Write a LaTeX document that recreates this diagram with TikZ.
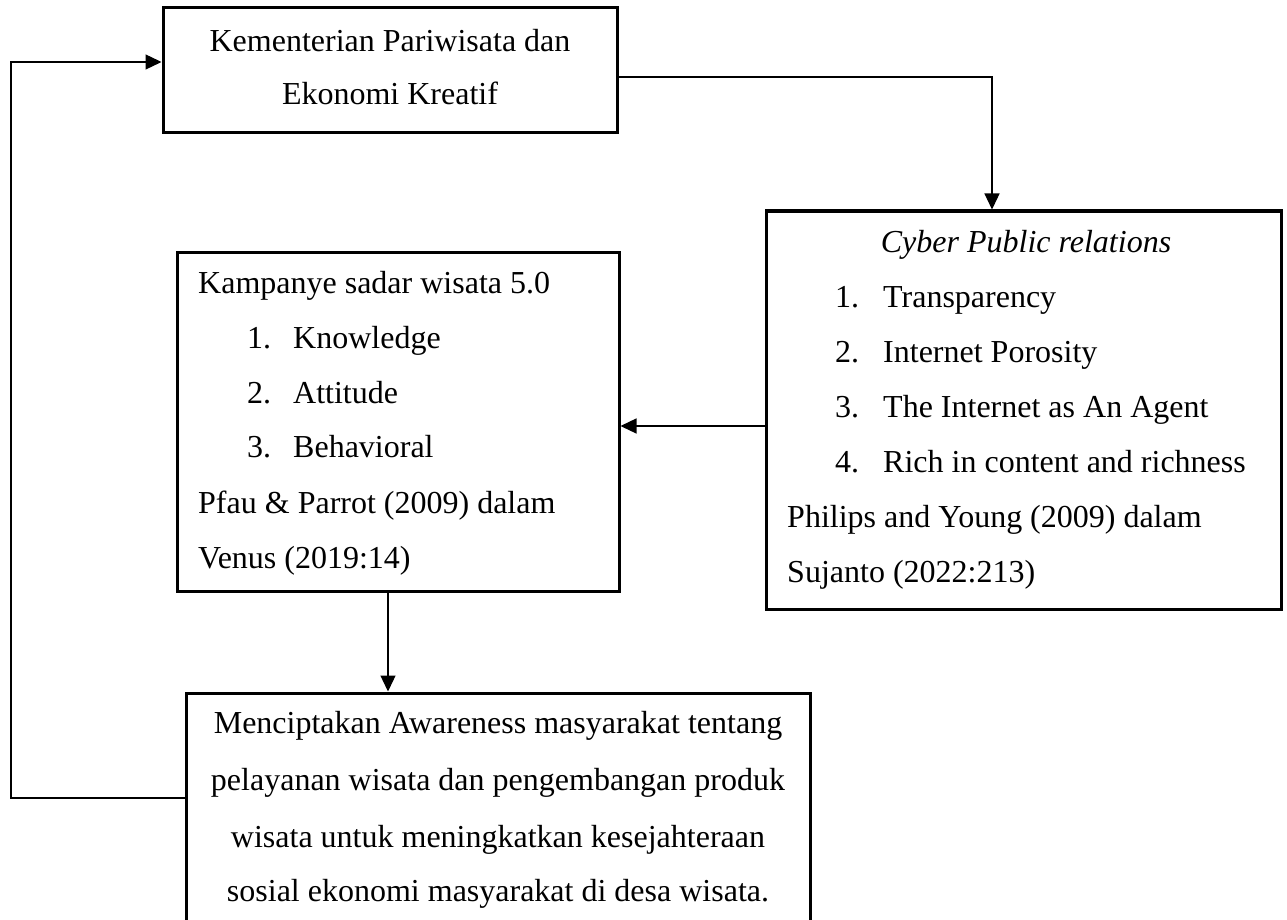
\documentclass[tikz,border=0pt]{standalone}
\usepackage{fontspec}
\setmainfont{Liberation Serif}
\usetikzlibrary{arrows.meta,fit}
\begin{document}
\begin{tikzpicture}[x=1pt,y=-1pt,
  box/.style={draw=black, line width=3pt, inner sep=0pt, fill=none},
  txt/.style={inner sep=0pt, font=\fontsize{32}{55}\selectfont, text=black},
  conn/.style={draw=black, line width=1.3pt, -{Triangle[length=16pt,width=15pt]}},
  plain/.style={draw=black, line width=1.3pt}]
\useasboundingbox (0,0) rectangle (1287,920);
\clip (0,0) rectangle (1287,920);
\fill[white] (0,0) rectangle (1287,920);

% boxes
\node[box, fit={(163,8) (617,133)}] (kem) {};
\node[box, fit={(766,211) (1281,609)}] (cpr) {};
\node[box, fit={(177,252) (619,591)}] (kamp) {};
\node[box, fit={(186,693) (810,935)}] (aware) {};

% box 1 text
\node[txt, anchor=base] (kem1) at (390,52) {Kementerian Pariwisata dan};
\node[txt, anchor=base] (kem2) at (390,105) {Ekonomi Kreatif};

% box 2 text
\node[txt, anchor=base] (cprT) at (1026,252) {\textit{Cyber Public relations}};
\node[txt, anchor=base west] (cn1) at (835,307) {1.};
\node[txt, anchor=base west] (ci1) at (883,307) {Transparency};
\node[txt, anchor=base west] (cn2) at (835,362) {2.};
\node[txt, anchor=base west] (ci2) at (883,362) {Internet Porosity};
\node[txt, anchor=base west] (cn3) at (835,417) {3.};
\node[txt, anchor=base west] (ci3) at (883,417) {The Internet as An Agent};
\node[txt, anchor=base west] (cn4) at (835,472) {4.};
\node[txt, anchor=base west] (ci4) at (883,472) {Rich in content and richness};
\node[txt, anchor=base west] (cr1) at (787,527) {Philips and Young (2009) dalam};
\node[txt, anchor=base west] (cr2) at (787,582) {Sujanto (2022:213)};

% box 3 text
\node[txt, anchor=base west] (kT) at (198,293) {Kampanye sadar wisata 5.0};
\node[txt, anchor=base west] (kn1) at (247,348) {1.};
\node[txt, anchor=base west] (ki1) at (293,348) {Knowledge};
\node[txt, anchor=base west] (kn2) at (247,403) {2.};
\node[txt, anchor=base west] (ki2) at (293,403) {Attitude};
\node[txt, anchor=base west] (kn3) at (247,457) {3.};
\node[txt, anchor=base west] (ki3) at (293,457) {Behavioral};
\node[txt, anchor=base west] (kr1) at (198,513) {Pfau \& Parrot (2009) dalam};
\node[txt, anchor=base west] (kr2) at (198,568) {Venus (2019:14)};

% box 4 text
\node[txt, anchor=base] (a1) at (498,733) {Menciptakan Awareness masyarakat tentang};
\node[txt, anchor=base] (a2) at (498,790) {pelayanan wisata dan pengembangan produk};
\node[txt, anchor=base] (a3) at (498,847) {wisata untuk meningkatkan kesejahteraan};
\node[txt, anchor=base] (a4) at (498,901) {sosial ekonomi masyarakat di desa wisata.};

% helper coordinates
\coordinate (c1) at (992,77);
\coordinate (c2) at (700,426);
\coordinate (c3) at (388,640);
\coordinate (c4) at (11,798);
\coordinate (c5) at (11,62);

% connectors
\draw[conn] (c1 -| kem.east) -| (c1 |- cpr.north);
\draw[conn] (c2 -| cpr.west) -- (c2 -| kamp.east);
\draw[conn] (c3 |- kamp.south) -- (c3 |- aware.north);
\draw[conn] (c4 -| aware.west) -- (c4) -- (c5) -- (c5 -| kem.west);
\end{tikzpicture}
\end{document}
